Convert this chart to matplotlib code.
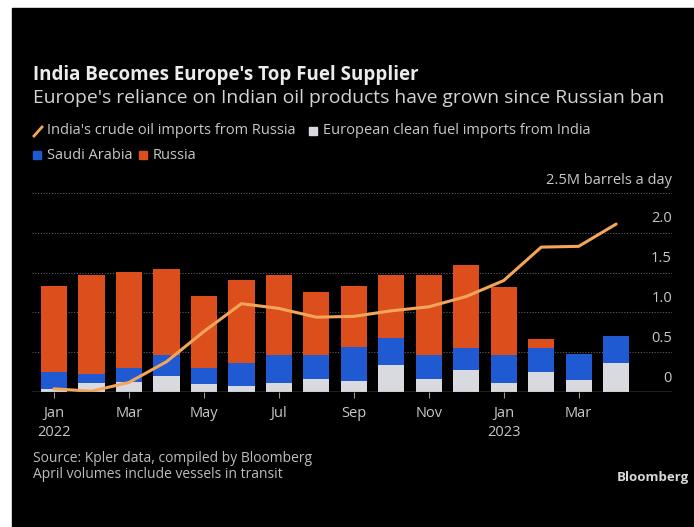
import matplotlib.pyplot as plt
import matplotlib.transforms as mtransforms
from matplotlib.patches import Rectangle
from matplotlib.lines import Line2D
import numpy as np

W, H = 694, 527

months = ['Jan', 'Feb', 'Mar', 'Apr', 'May', 'Jun', 'Jul', 'Aug',
          'Sep', 'Oct', 'Nov', 'Dec', 'Jan', 'Feb', 'Mar', 'Apr']
years = {0: '2022', 12: '2023'}

# million barrels a day
clean_fuel_india = [0.04, 0.11, 0.12, 0.20, 0.10, 0.08, 0.11, 0.16,
                    0.14, 0.34, 0.16, 0.28, 0.11, 0.25, 0.15, 0.36]
saudi_arabia = [0.21, 0.12, 0.18, 0.26, 0.20, 0.28, 0.35, 0.31,
                0.42, 0.34, 0.31, 0.27, 0.35, 0.30, 0.33, 0.34]
russia = [1.08, 1.24, 1.21, 1.08, 0.91, 1.05, 1.01, 0.79,
          0.77, 0.79, 1.00, 1.04, 0.86, 0.11, 0.0, 0.0]
india_crude_russia = [0.04, 0.01, 0.12, 0.38, 0.76, 1.11, 1.05, 0.94,
                      0.95, 1.02, 1.07, 1.20, 1.40, 1.82, 1.83, 2.11]

c_white = '#d9dae0'
c_blue = '#1f5ad2'
c_red = '#dc4f1c'
c_line = '#f3a65a'
c_text = '#c8c8c8'

FONT = 'Open Sans'
SMALL = 10.5


def fx(px):
    return px / W


def fy(py):
    return 1 - py / H


fig = plt.figure(figsize=(W / 100, H / 100), dpi=100, facecolor='white')
fig.patches.append(Rectangle((fx(12), 0), 1, fy(8), transform=fig.transFigure,
                             color='black', zorder=-10))

ax = fig.add_axes([fx(32), fy(392), fx(672) - fx(32), fy(193) - fy(392)])
ax.set_facecolor('none')

x = np.arange(len(months))
w = 0.7
b1 = np.array(clean_fuel_india)
b2 = b1 + np.array(saudi_arabia)
ax.bar(x, clean_fuel_india, w, color=c_white, zorder=2)
ax.bar(x, saudi_arabia, w, bottom=b1, color=c_blue, zorder=2)
ax.bar(x, russia, w, bottom=b2, color=c_red, zorder=2)
ax.plot(x, india_crude_russia, color=c_line, lw=2.2, zorder=3,
        solid_joinstyle='round', solid_capstyle='round')

for v in [0.5, 1.0, 1.5, 2.0, 2.5]:
    ax.axhline(v, color='#5e5e5e', lw=0.8, ls=(0, (1, 1.5)), zorder=1)
ax.axhline(0, color='#9a9a9a', lw=1.0, zorder=4)

ax.set_xlim(-0.587, 16.49)
ax.set_ylim(0, 2.5)
for s in ax.spines.values():
    s.set_visible(False)
ax.set_yticks([])

ticks = x[::2]
labels = [months[i] + ('\n' + years[i] if i in years else '') for i in ticks]
ax.set_xticks(ticks)
ax.set_xticklabels(labels, fontsize=SMALL, color=c_text, family=FONT,
                   linespacing=1.35, va='top')
ax.tick_params(axis='x', length=4, color='#9a9a9a', pad=6)

trans = mtransforms.blended_transform_factory(ax.transAxes, ax.transData)
for v, lab in [(0, '0'), (0.5, '0.5'), (1.0, '1.0'), (1.5, '1.5'), (2.0, '2.0')]:
    t = mtransforms.offset_copy(trans, fig=fig, y=14, units='dots')
    ax.text(1.0, v, lab, transform=t, ha='right', va='center',
            fontsize=SMALL, color=c_text, family=FONT)
t = mtransforms.offset_copy(trans, fig=fig, y=12, units='dots')
ax.text(1.0, 2.5, '2.5M barrels a day', transform=t, ha='right', va='center',
        fontsize=SMALL, color=c_text, family=FONT)

# titles
fig.text(fx(33), fy(75), "India Becomes Europe's Top Fuel Supplier",
         fontsize=13.5, weight='bold', color='#ececec', family=FONT, va='center')
fig.text(fx(33), fy(98), "Europe's reliance on Indian oil products have grown since Russian ban",
         fontsize=13.9, color='#d4d4d4', family=FONT, va='center')

# legend
fig.lines.append(Line2D([fx(34), fx(42)], [fy(136), fy(127)], transform=fig.transFigure,
                        color=c_line, lw=2))
fig.text(fx(47), fy(131), "India's crude oil imports from Russia", fontsize=SMALL,
         color=c_text, family=FONT, va='center')
for px, py, col, lab in [(309, 131, c_white, 'European clean fuel imports from India'),
                         (33, 155, c_blue, 'Saudi Arabia'),
                         (139, 155, c_red, 'Russia')]:
    fig.patches.append(Rectangle((fx(px), fy(py + 4)), fx(8), 8 / H,
                                 transform=fig.transFigure, color=col))
    fig.text(fx(px + 14), fy(py), lab, fontsize=SMALL, color=c_text, family=FONT, va='center')

# footer
fig.text(fx(33), fy(458), 'Source: Kpler data, compiled by Bloomberg', fontsize=10,
         color='#bdbdbd', family=FONT, va='center')
fig.text(fx(33), fy(474), 'April volumes include vessels in transit', fontsize=10,
         color='#bdbdbd', family=FONT, va='center')
fig.text(fx(689), fy(478), 'Bloomberg', fontsize=9.5, weight='bold',
         color='#d8d8d8', family=FONT, va='center', ha='right')

fig.savefig('out.png', dpi=100, facecolor=fig.get_facecolor())
